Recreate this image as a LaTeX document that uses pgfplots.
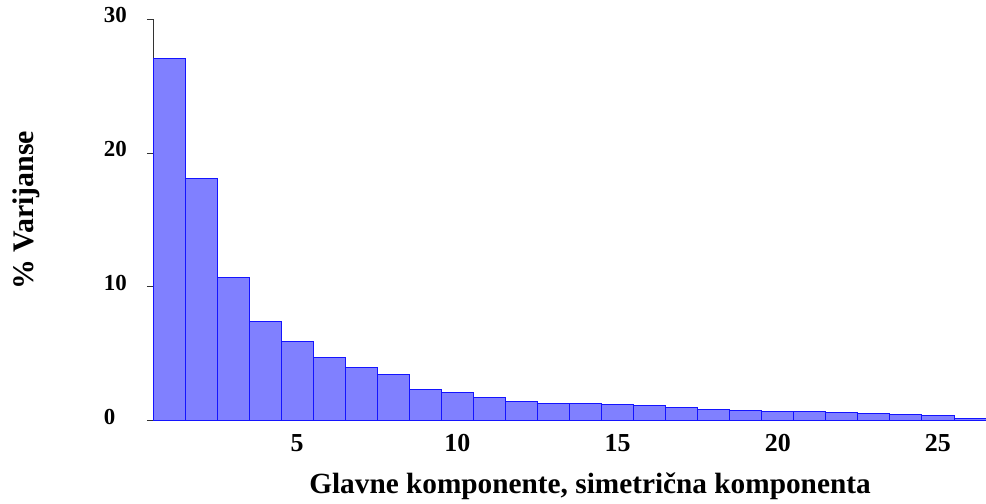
\documentclass[border=0pt]{standalone}
\usepackage{pgfplots}
\pgfplotsset{compat=1.18}
\usepackage{fontspec}
\setmainfont{Liberation Serif}
\definecolor{barfill}{RGB}{128,128,255}
\definecolor{baredge}{RGB}{20,20,255}
\begin{document}
\begin{tikzpicture}
\useasboundingbox (0,0) rectangle (986bp,504bp);
\begin{axis}[
  at={(153bp,83.3bp)}, anchor=south west,
  scale only axis, width=833bp, height=401.4bp,
  xmin=0.5, xmax=26.5, ymin=0, ymax=30,
  axis y line*=left, axis x line*=bottom,
  x axis line style={draw=none},
  y axis line style={black!80, line width=0.8pt},
  xtick={5,10,15,20,25},
  xtick style={draw=none},
  ytick={0,10,20,30},
  yticklabels={{0},{10},{20},{\raisebox{-10bp}{30}}},
  ytick style={black!80, line width=0.8pt},
  tick align=outside, major tick length=6bp,
  /pgf/number format/assume math mode=true,
  xticklabel style={font=\bfseries\fontsize{26}{30}\selectfont, yshift=-4bp},
  yticklabel style={font=\bfseries\fontsize{23}{27}\selectfont, text width=26bp, align=left, inner xsep=0pt, xshift=-17bp, yshift=4bp},
  xlabel={Glavne komponente, simetrična komponenta},
  xlabel style={font=\bfseries\fontsize{29.4}{34}\selectfont, at={(axis description cs:0.5246,-0.1815)}, anchor=base},
  ylabel={\% Varijanse},
  ylabel style={font=\bfseries\fontsize{30}{34}\selectfont, at={(axis description cs:-0.144,0.524)}, anchor=base, rotate=0},
  ybar, bar width=1, bar shift=0pt,
]
\addplot[fill=barfill, draw=baredge, line width=0.9pt] coordinates {
(1,27.07) (2,18.07) (3,10.7) (4,7.44) (5,5.93) (6,4.70) (7,4.0) (8,3.49)
(9,2.34) (10,2.12) (11,1.72) (12,1.45) (13,1.32) (14,1.32) (15,1.22)
(16,1.12) (17,1.0) (18,0.85) (19,0.75) (20,0.67) (21,0.67) (22,0.62)
(23,0.55) (24,0.45) (25,0.40) (26,0.18)
};
\end{axis}
\end{tikzpicture}
\end{document}
